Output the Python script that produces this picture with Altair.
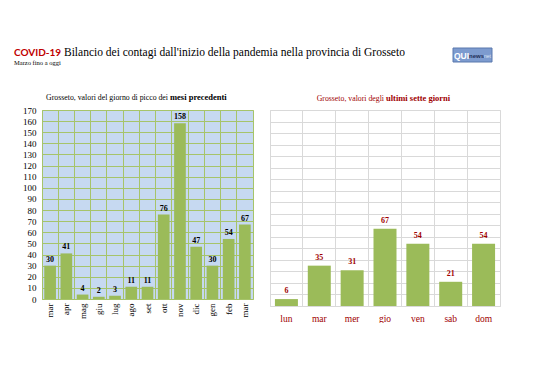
import json
import altair as alt
import pandas as pd

# ---- data ----
months = ["mar", "apr", "mag", "giu", "lug", "ago", "set", "ott", "nov", "dic", "gen", "feb", "mar"]
month_vals = [30, 41, 4, 2, 3, 11, 11, 76, 158, 47, 30, 54, 67]
days = ["lun", "mar", "mer", "gio", "ven", "sab", "dom"]
day_vals = [6, 35, 31, 67, 54, 21, 54]
y_ticks = list(range(0, 171, 10))

title_red = "COVID-19"
title_main = "Bilancio dei contagi dall'inizio della pandemia nella provincia di Grosseto"
subtitle = "Marzo fino a oggi"
left_title_plain = "Grosseto, valori del giorno di picco dei "
left_title_bold = "mesi precedenti"
right_title_plain = "Grosseto, valori degli "
right_title_bold = "ultimi sette giorni"

SERIF = "Liberation Serif"
GREEN = "#9bbb59"
GRID_G = "#a6c46a"
BLUE_BG = "#c6d9f1"
DARK_RED = "#a00000"
RED = "#c00000"


def txt(s):
    return pd.DataFrame({"t": [s]})


def text_layer(s, x, y, size, color="black", weight="normal", font=SERIF, align="left"):
    return alt.Chart(txt(s)).mark_text(
        font=font, fontSize=size, color=color, fontWeight=weight, align=align, baseline="alphabetic"
    ).encode(x=alt.value(x), y=alt.value(y), text="t:N")


# ---- header ----
logo_bg = alt.Chart(txt("logo")).mark_rect(color="#7d9bcf", stroke="#5a78ad").encode(
    x=alt.value(411), x2=alt.value(450), y=alt.value(8), y2=alt.value(22))

header = alt.layer(
    text_layer(title_red, -28, 16, 10, color=RED, weight="bold", font="Lato"),
    text_layer(title_main, 22, 16, 11.5),
    text_layer(subtitle, -28, 25, 6.5),
    logo_bg,
    text_layer("QUI", 412, 19, 8.5, color="white", weight="bold", font="Liberation Sans"),
    text_layer("news", 427, 18, 6, color="#1f2f5a", weight="bold", font="Liberation Sans"),
    text_layer("net", 442, 18, 5, color="#dde6f5", font="Liberation Sans"),
).properties(width=458, height=60, view=alt.ViewBackground(stroke=None, fill=None))

# ---- left chart ----
left_df = pd.DataFrame({"i": list(range(len(months))), "v": month_vals})
label_expr = json.dumps(months) + "[datum.value]"

lbase = alt.Chart(left_df).encode(
    x=alt.X("i:O", title=None,
            scale=alt.Scale(paddingInner=0, paddingOuter=0),
            axis=alt.Axis(labelExpr=label_expr, labelAngle=270, labelFont=SERIF, labelFontSize=9,
                          labelColor="black", ticks=False, domain=False, grid=True,
                          gridColor=GRID_G, gridOpacity=1, bandPosition=0, labelPadding=4)),
    y=alt.Y("v:Q", title=None,
            scale=alt.Scale(domain=[0, 170], nice=False),
            axis=alt.Axis(values=y_ticks, labelFont=SERIF, labelFontSize=9, labelColor="black",
                          ticks=False, domain=False, gridColor=GRID_G, gridOpacity=1, labelPadding=6)),
)
lbars = lbase.mark_bar(color=GREEN, width=alt.RelativeBandSize(0.72))
llabels = lbase.mark_text(dy=-6, font=SERIF, fontWeight="bold", fontSize=8, color="black").encode(text="v:Q")

left = alt.layer(
    lbars, llabels,
    text_layer(left_title_plain, 126, -10, 7.8, align="right"),
    text_layer(left_title_bold, 128, -10, 8.5, weight="bold"),
).properties(width=211, height=189, view=alt.ViewBackground(fill=BLUE_BG, stroke=GRID_G))

# ---- right chart ----
right_df = pd.DataFrame({"d": days, "v": day_vals})
rbase = alt.Chart(right_df).encode(
    x=alt.X("d:N", title=None, sort=days,
            scale=alt.Scale(paddingInner=0, paddingOuter=0),
            axis=alt.Axis(labelAngle=0, labelFont=SERIF, labelFontSize=9.5, labelColor=DARK_RED,
                          ticks=False, domain=False, grid=True, gridColor="#d9d9d9", gridOpacity=1,
                          bandPosition=0, labelPadding=7)),
    y=alt.Y("v:Q", title=None,
            scale=alt.Scale(domain=[0, 170], nice=False),
            axis=alt.Axis(values=y_ticks, labels=False, ticks=False, domain=False,
                          gridColor="#d9d9d9", gridOpacity=1)),
)
rbars = rbase.mark_bar(color=GREEN, width=alt.RelativeBandSize(0.7))
rlabels = rbase.mark_text(dy=-8, font=SERIF, fontWeight="bold", fontSize=8, color=DARK_RED).encode(text="v:Q")

right = alt.layer(
    rbars, rlabels,
    text_layer(right_title_plain, 114, -9, 7.8, color=DARK_RED, align="right"),
    text_layer(right_title_bold, 116, -9, 8.5, color=DARK_RED, weight="bold"),
).properties(width=230, height=196, view=alt.ViewBackground(fill="white", stroke="#d9d9d9"))

body = alt.hconcat(left, right, spacing=17, bounds="flush")

chart = alt.vconcat(header, body, spacing=10, bounds="flush").properties(
    padding={"left": 6, "top": 32, "right": 0, "bottom": 0},
    background="white",
)

chart.save("out.html", embed_options={"renderer": "svg", "actions": False})
